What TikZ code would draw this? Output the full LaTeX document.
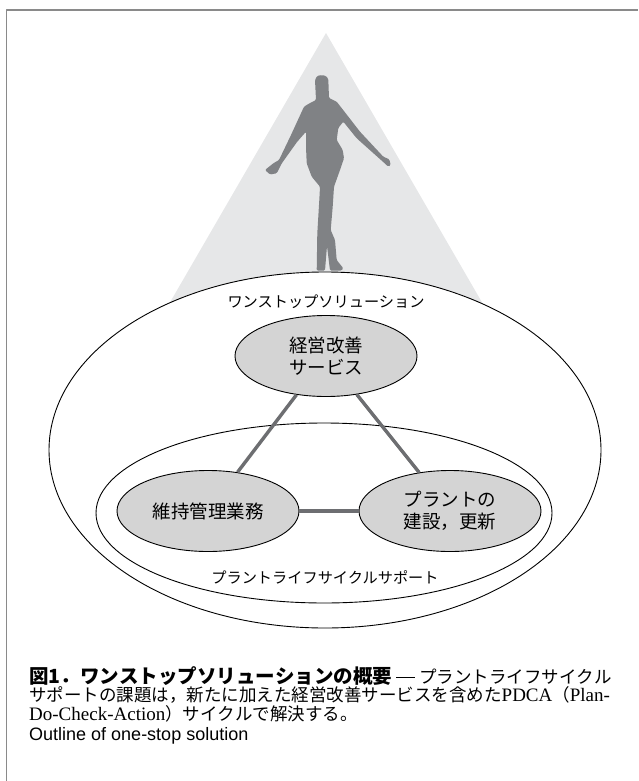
\documentclass[tikz,border=0pt]{standalone}
\usepackage{fontspec}
\setmainfont{Liberation Serif}
\newfontfamily\jp{Noto Sans CJK JP}
\newfontfamily\en{Liberation Sans}
\usetikzlibrary{shapes.geometric}
\XeTeXlinebreaklocale "ja"
\XeTeXlinebreakskip=0pt plus 2pt
\definecolor{conegray}{HTML}{E6E7E8}
\definecolor{figgray}{HTML}{808285}
\definecolor{nodegray}{HTML}{D4D4D4}
\definecolor{linkgray}{HTML}{6D6E71}
\definecolor{framegray}{HTML}{8A8A8A}
\newcommand\lat[1]{{\rmfamily\fontsize{19}{18.4}\selectfont #1}}
\newcommand\capdash{\rule[5.8pt]{19pt}{0.7pt}}
\begin{document}
\begin{tikzpicture}[x=1pt, y=-1pt, line join=round,
	field/.style={ellipse, draw, line width=0.9pt, fill=white, inner sep=0pt},
	task/.style={ellipse, draw, line width=0.9pt, fill=nodegray, inner sep=0pt,
		minimum width=182pt, minimum height=81pt, align=center,
		font=\jp\fontsize{18.5}{21.6}\selectfont},
	tag/.style={inner sep=0pt, font=\jp\fontsize{15.2}{18}\selectfont},
	link/.style={draw=linkgray, line width=3.4pt},
	capline/.style={anchor=base west, inner sep=0pt, text width=594pt, align=justify,
		font=\jp\fontsize{17.5}{18.4}\selectfont}]
	\useasboundingbox (0,0) rectangle (638,781);
	\draw[framegray, line width=1.6pt] (6.5,781) -- (6.5,10) -- (638,10);
	% spotlight and dancer
	\fill[conegray] (326,33) -- (498,330) -- (154,330) -- cycle;
	\fill[figgray, rounded corners=1.2pt] (316,100) -- (315,80) -- (317,76) -- (321.7,75) -- (326,76)
		-- (328.3,79) -- (329,98) -- (336.7,101.7) -- (360,131.7) -- (383.3,156.7) -- (389.3,159.3)
		-- (390.7,165) -- (388.3,166.7) -- (384,162.7) -- (356.7,138.3) -- (343.3,121.7) -- (338.3,128)
		-- (336.7,140) -- (342.7,150) -- (344,158.3) -- (340,170) -- (334,186.7) -- (332.7,206.7)
		-- (330.7,230) -- (335,240) -- (336.7,260) -- (343.3,268.3) -- (341.7,270.5) -- (330,270.5)
		-- (327,246) -- (325,270.5) -- (316.7,270.5) -- (317.3,233.3) -- (319.3,200) -- (320,186.7)
		-- (311.7,176.7) -- (306.7,163.3) -- (306,146.7) -- (306,131.7) -- (297,142) -- (282,163)
		-- (276.7,173.3) -- (270,174.5) -- (265,170) -- (273.3,163.3) -- (279,160) -- (291,135)
		-- (304,106.7) -- (308.3,104) -- cycle;
	% outer fields
	\node[field, minimum width=552pt, minimum height=356pt] (solution) at (325,450) {};
	\node[field, minimum width=456pt, minimum height=180pt] (lifecycle) at (324,513) {};
	\node[tag] (solutionlabel) at (326,302) {ワンストップソリューション};
	\node[tag] (lifecyclelabel) at (325,577) {プラントライフサイクルサポート};
	% three tasks
	\node[task] (service) at (326,356) {経営改善\\サービス};
	\node[task] (maintain) at (208,511) {維持管理業務};
	\node[task] (plant) at (450,511) {プラントの\\建設，更新};
	\path[link] (service) -- (maintain);
	\path[link] (service) -- (plant);
	\path[link] (maintain) -- (plant);
	% caption, one node per line
	\node[capline] (caption1) at (29,683) {\parfillskip=0pt
		{\bfseries\fontsize{19.5}{18.4}\selectfont 図1．ワンストップソリューションの概要}\hspace{4pt}\capdash\hspace{4pt}プラントライフサイクル};
	\node[capline] (caption2) at (29,701.5) {\parfillskip=0pt
		サポートの課題は，新たに加えた経営改善サービスを含めた\lat{PDCA}（\lat{Plan-}};
	\node[capline] (caption3) at (29,720) {\lat{Do-Check-Action}）サイクルで解決する。};
	\node[anchor=base west, inner sep=0pt, font=\en\fontsize{18}{20}\selectfont] (outline) at (29,740)
		{Outline of one-stop solution};
\end{tikzpicture}
\end{document}
